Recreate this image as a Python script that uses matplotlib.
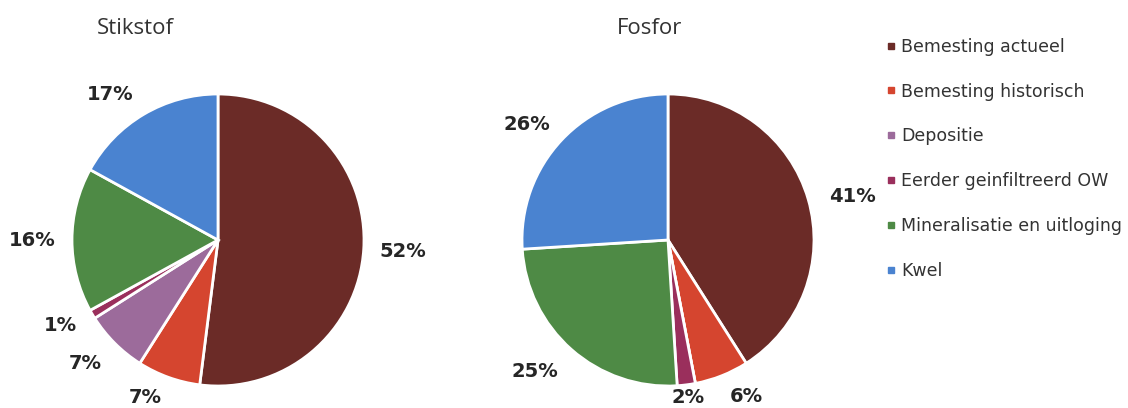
import numpy as np
import matplotlib.pyplot as plt
from matplotlib.lines import Line2D

categories = ['Bemesting actueel', 'Bemesting historisch', 'Depositie',
              'Eerder geinfiltreerd OW', 'Mineralisatie en uitloging', 'Kwel']
stikstof = [52, 7, 7, 1, 16, 17]
fosfor = [41, 6, 0, 2, 25, 26]
colors = ['#6B2B27', '#D5452F', '#9C6B9B', '#9A2F5C', '#4E8A45', '#4A83D0']

# label placement (clockwise angle shift in degrees, radial distance)
stikstof_lbl = [(0, 1.27), (5, 1.19), (2, 1.24), (2, 1.23), (0, 1.27), (-6, 1.24)]
fosfor_lbl = [(3, 1.30), (-5, 1.20), (0, 1.2), (0, 1.09), (4, 1.28), (-4, 1.25)]

fig = plt.figure(figsize=(11.28, 4.08), dpi=100)
W, H = 1128, 408


def draw_pie(left, values, lbl, title, title_x):
    ax = fig.add_axes([left / W, 22 / H, 292 / W, 292 / H])
    wedges, _ = ax.pie(values, colors=colors, startangle=90, counterclock=False,
                       wedgeprops=dict(edgecolor='white', linewidth=2))
    total = sum(values)
    for w, v, (shift, d) in zip(wedges, values, lbl):
        if v == 0:
            continue
        ang = np.deg2rad((w.theta1 + w.theta2) / 2 - shift)
        ax.text(d * np.cos(ang), d * np.sin(ang), '%d%%' % round(100 * v / total),
                ha='center', va='center', fontsize=14, fontweight='bold',
                color='#262626', clip_on=False)
    ax.set_xlim(-1, 1)
    ax.set_ylim(-1, 1)
    ax.set_aspect('equal')
    fig.text(title_x / W, 1 - 28 / H, title, ha='center', va='center',
             fontsize=16, color='#333333', family='Open Sans')


draw_pie(72, stikstof, stikstof_lbl, 'Stikstof', 135)
draw_pie(522, fosfor, fosfor_lbl, 'Fosfor', 650)

handles = [Line2D([0], [0], marker='s', linestyle='none', markersize=5,
                  markerfacecolor=c, markeredgecolor=c) for c in colors]
fig.legend(handles, categories, loc='upper left',
           bbox_to_anchor=(870 / W, 1 - 22 / H), frameon=False,
           fontsize=12.5, labelspacing=1.55, handlelength=0.6,
           handletextpad=0.3, labelcolor='#333333')

fig.savefig('out.png', dpi=100)
